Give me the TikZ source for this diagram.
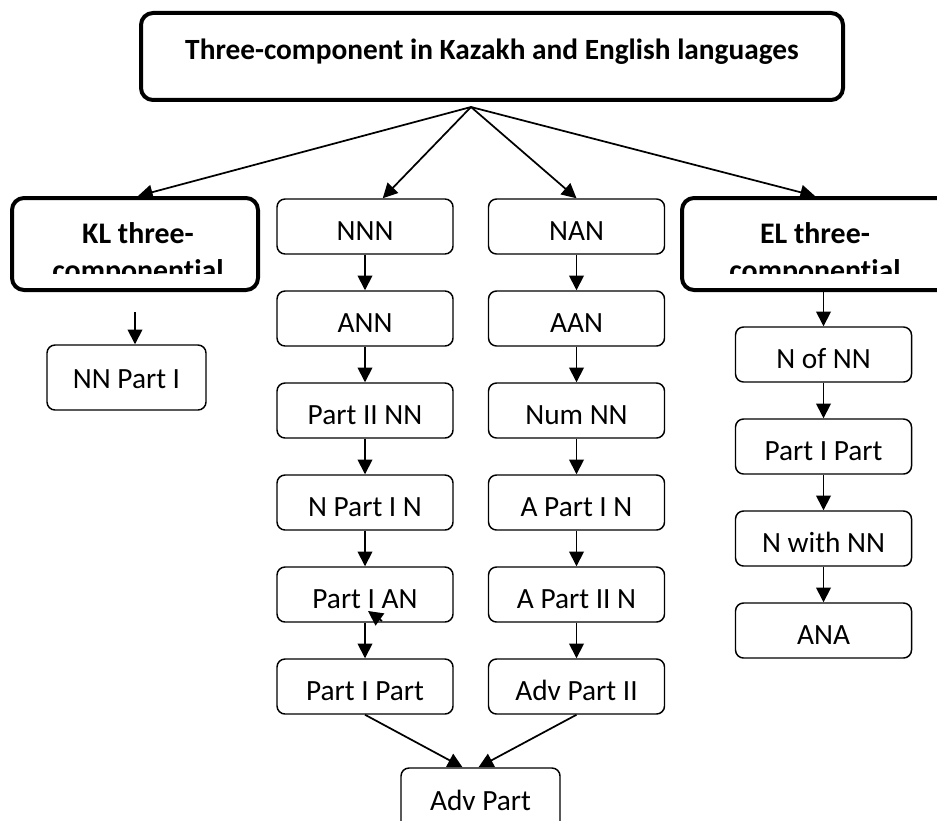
\documentclass[tikz,border=0pt]{standalone}
\usepackage{fontspec}
\setmainfont{Carlito}[Ligatures=NoCommon]
\usetikzlibrary{arrows.meta,positioning,calc}
\tikzset{
	titulo/.style={
		draw,
		line width=3pt,
		rounded corners=9pt,
		minimum width=526.5pt,
		minimum height=65.25pt,
		inner sep=0pt,
		text height=5.25pt,
		text depth=0pt,
		font=\bfseries\fontsize{22}{26}\selectfont
	},
	grupo/.style={
		draw,
		line width=3pt,
		rounded corners=9pt,
		minimum height=69pt,
		inner sep=0pt
	},
	rotulo/.style={
		inner sep=0pt,
		font=\bfseries\fontsize{22.4}{26}\selectfont
	},
	forma/.style={
		draw,
		line width=1.1pt,
		rounded corners=6pt,
		minimum width=132pt,
		minimum height=41.25pt,
		inner sep=0pt,
		text height=21pt,
		text depth=0pt,
		font=\fontsize{22}{26}\selectfont
	},
	flecha/.style={
		-{Triangle[length=11pt,width=11pt]},
		line width=1.3pt
	}
}
\begin{document}
\begin{tikzpicture}[x=0.75pt,y=-0.75pt]
		\useasboundingbox (0,0) rectangle (937,820);
		% cabecera
		\node[titulo] (titulo) at (492,56.5) {Three-component in Kazakh and English languages};
		\coordinate (raiz) at (471,107);
		% grupos
		\node[grupo, minimum width=184.5pt] (kl) at (135,244) {};
		\node[grupo, minimum width=205.5pt] (el) at (819,244) {};
		\begin{scope}
			\clip (kl.north west) rectangle ($(kl.south east)+(0,-19)$);
			\node[rotulo, anchor=base] (klUno) at (138,243) {KL three-};
			\node[rotulo, anchor=base] (klDos) at (138,280) {componential};
		\end{scope}
		\begin{scope}
			\clip (el.north west) rectangle ($(el.south east)+(0,-19)$);
			\node[rotulo, anchor=base] (elUno) at (815,243) {EL three-};
			\node[rotulo, anchor=base] (elDos) at (815,280) {componential};
		\end{scope}
		% columna izquierda
		\node[forma] (nnn) at (365,226.5) {NNN};
		\node[forma] (ann) at (365,318.5) {ANN};
		\node[forma] (partiinn) at (365,410.5) {Part II NN};
		\node[forma] (npartin) at (365,502.5) {N Part I N};
		\node[forma] (partian) at (365,594.5) {Part I AN};
		\node[forma] (partipart) at (365,686.5) {Part I Part};
		% columna central
		\node[forma] (nan) at (576.5,226.5) {NAN};
		\node[forma] (aan) at (576.5,318.5) {AAN};
		\node[forma] (numnn) at (576.5,410.5) {Num NN};
		\node[forma] (apartin) at (576.5,502.5) {A Part I N};
		\node[forma] (apartiin) at (576.5,594.5) {A Part II N};
		\node[forma] (advpartii) at (576.5,686.5) {Adv Part II};
		% columna derecha
		\node[forma] (nofnn) at (823.5,354.5) {N of NN};
		\node[forma] (partipartel) at (823.5,446.5) {Part I Part};
		\node[forma] (nwithnn) at (823.5,538.5) {N with NN};
		\node[forma] (ana) at (823.5,630.5) {ANA};
		% sueltos
		\node[forma, minimum width=119.25pt, minimum height=48.75pt, text height=16pt] (nnparti) at (126.5,377.5) {NN Part I};
		\node[forma, minimum width=119.25pt, minimum height=48.75pt, text height=15pt] (advpart) at (480.5,800.5) {Adv Part};
		% flechas
		\draw[flecha] (raiz) -- (klUno.south |- kl.north);
		\draw[flecha] (raiz) -- ($(nnn.north west)!0.6!(nnn.north east)$);
		\draw[flecha] (raiz) -- (nan.north);
		\draw[flecha] (raiz) -- (elUno.south |- el.north);
		\draw[flecha] ($(kl.south)+(0,20)$) -- (kl.south |- nnparti.north);
		\draw[flecha] (nofnn.north |- el.south) -- (nofnn.north);
		\foreach \a/\b in {nnn/ann,ann/partiinn,partiinn/npartin,npartin/partian,partian/partipart,nan/aan,aan/numnn,numnn/apartin,apartin/apartiin,apartiin/advpartii,nofnn/partipartel,partipartel/nwithnn,nwithnn/ana}
			\draw[flecha] (\a.south) -- (\b.north);
		\draw[flecha] (partipart.south) -- ($(advpart.north)+(-18,0)$);
		\draw[flecha] (advpartii.south) -- ($(advpart.north)+(-2,0)$);
		\coordinate (suelta) at (382,621);
		\draw[flecha] (suelta) -- (368,611);
	\end{tikzpicture}
\end{document}
